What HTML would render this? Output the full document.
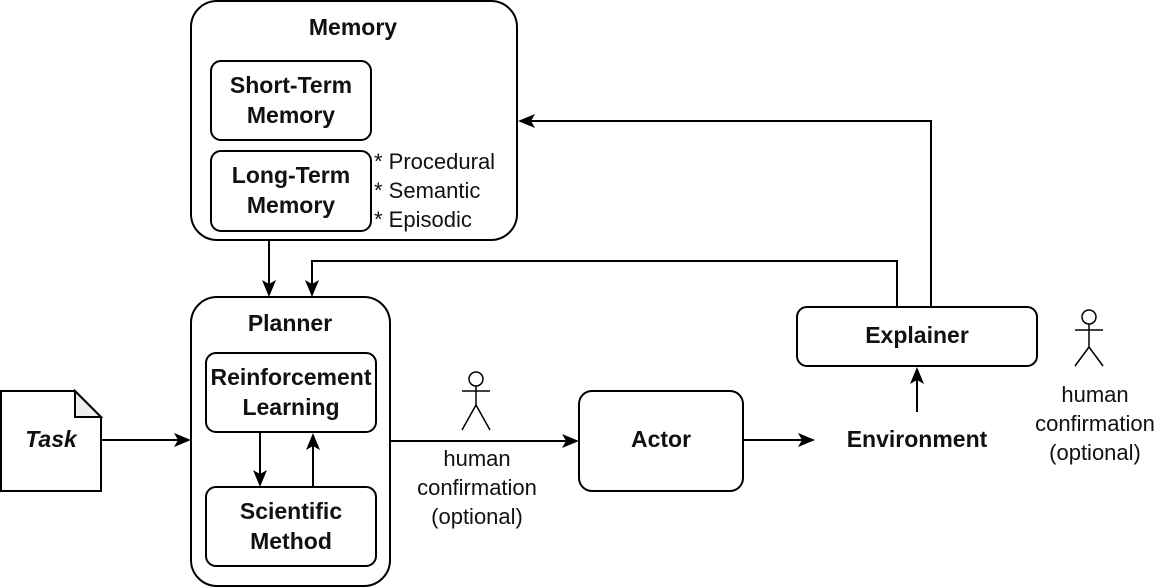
<!DOCTYPE html>
<html><head><style>body{margin:0;background:#fff}svg{display:block}text{font-family:"Liberation Sans",Arial,sans-serif;font-size:22px;fill:#111}.b{font-weight:bold;font-size:23px}</style></head><body>
<svg width="1156" height="588" viewBox="0 0 1156 588">
<g fill="none" stroke="#000" stroke-width="2">
<rect x="191" y="1" width="326" height="239" rx="26"/>
<rect x="211" y="61" width="160" height="79" rx="10"/>
<rect x="211" y="151" width="160" height="80" rx="10"/>
<rect x="191" y="297" width="199" height="289" rx="26"/>
<rect x="206" y="353" width="170" height="79" rx="10"/>
<rect x="206" y="487" width="170" height="79" rx="10"/>
<path d="M1,391 H75 L101,417 V491 H1 Z"/>
<rect x="579" y="391" width="164" height="100" rx="13"/>
<rect x="797" y="307" width="240" height="59" rx="10"/>
<path d="M260,432 V478"/>
<path d="M313,487 V442"/>
<path d="M101,440 H182"/>
<path d="M390,441 H570"/>
<path d="M743,440 H806"/>
<path d="M917,412 V376"/>
<path d="M931,307 V121 H527"/>
<path d="M897,307 V261 H312 V288"/>
<path d="M269,240 V288"/>
<circle cx="476" cy="379" r="7" stroke-width="1.5"/>
<path d="M476,386 V405 M462,391 H490 M476,405 L462,430 M476,405 L490,430" stroke-width="1.5"/>
<circle cx="1089" cy="317" r="7" stroke-width="1.5"/>
<path d="M1089,324 V347 M1075,330 H1103 M1089,347 L1075,366 M1089,347 L1103,366" stroke-width="1.5"/>
</g>
<g fill="#000">
<path d="M260,487 L253,470 L260,474 L267,470 Z"/>
<path d="M313,433 L306,450 L313,446 L320,450 Z"/>
<path d="M191,440 L174,433 L178,440 L174,447 Z"/>
<path d="M579,441 L562,434 L566,441 L562,448 Z"/>
<path d="M815,440 L798,433 L802,440 L798,447 Z"/>
<path d="M917,367 L910,384 L917,380 L924,384 Z"/>
<path d="M518,121 L535,114 L531,121 L535,128 Z"/>
<path d="M312,297 L305,280 L312,284 L319,280 Z"/>
<path d="M269,297 L262,280 L269,284 L276,280 Z"/>
</g>
<path d="M75,391 L101,417 H75 Z" fill="#eee" stroke="#000" stroke-width="2"/>
<g text-anchor="middle">
<text class="b" x="353" y="35">Memory</text>
<text class="b" x="291" y="93">Short-Term</text>
<text class="b" x="291" y="123">Memory</text>
<text class="b" x="291" y="183">Long-Term</text>
<text class="b" x="291" y="213">Memory</text>
<text class="b" x="290" y="331">Planner</text>
<text class="b" x="291" y="385">Reinforcement</text>
<text class="b" x="291" y="415">Learning</text>
<text class="b" x="291" y="519">Scientific</text>
<text class="b" x="291" y="549">Method</text>
<text class="b" x="51" y="447" font-style="italic">Task</text>
<text class="b" x="661" y="447">Actor</text>
<text class="b" x="917" y="447">Environment</text>
<text class="b" x="917" y="343">Explainer</text>
<text x="477" y="466">human</text>
<text x="477" y="495">confirmation</text>
<text x="477" y="524">(optional)</text>
<text x="1095" y="402">human</text>
<text x="1095" y="431">confirmation</text>
<text x="1095" y="460">(optional)</text>
</g>
<text x="374" y="169">* Procedural</text>
<text x="374" y="198">* Semantic</text>
<text x="374" y="227">* Episodic</text>
</svg>
</body></html>
